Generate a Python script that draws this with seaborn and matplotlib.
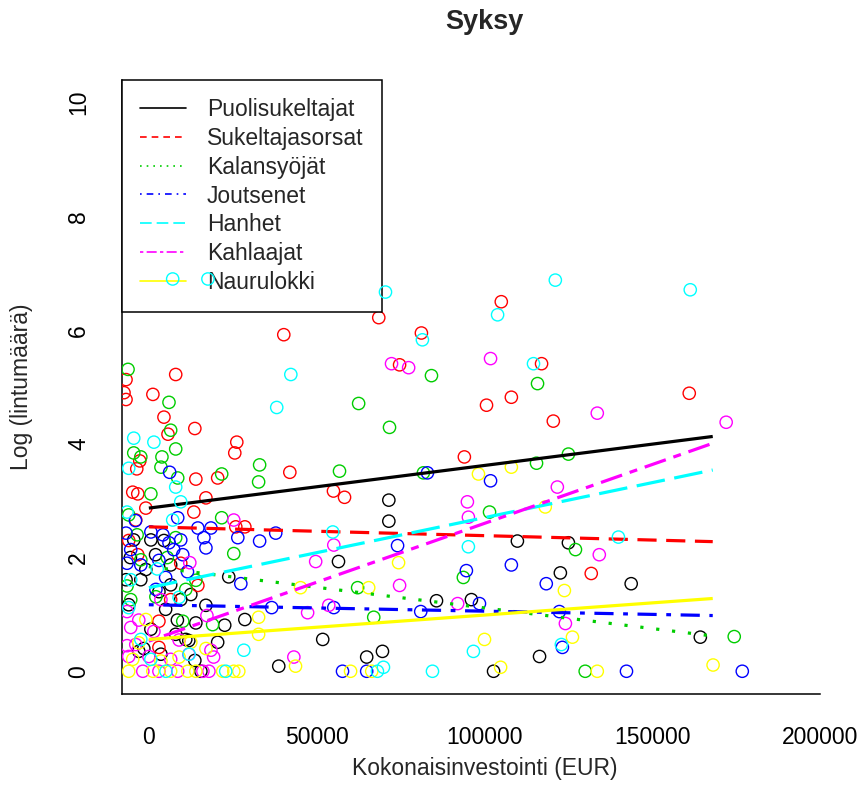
import numpy as np
import pandas as pd
import matplotlib
matplotlib.use("Agg")
import matplotlib.pyplot as plt
from matplotlib.lines import Line2D
import seaborn as sns

# ---- observations per bird group: total investment (EUR) vs log bird count ----
groups = ["Puolisukeltajat", "Sukeltajasorsat", "Kalansyöjät", "Joutsenet",
          "Hanhet", "Kahlaajat", "Naurulokki"]
colors = ["#000000", "#FF0000", "#00CD00", "#0000FF", "#00FFFF", "#FF00FF", "#FFFF00"]

x_puoli = [71500, 71500, 109800, 125000, 56500, 122600, 143700, 85700, 96100, 164300,
           64900, 69600, 116400, 102700, 51800, 38700, 23800, 17000, 28600, 22600,
           20500, 11900, 13700, -4500, 600, 2000, 6500, -2400, -6000, 5000,
           8000, 11000, 600, -3000, -6800, 9500, 3600, 15500, -900, 6500, 12500,
           -5500, 3000, 8500, -1500, 14000, 4500]
y_puoli = [3.01, 2.64, 2.29, 2.26, 1.93, 1.73, 1.54, 1.24, 1.26, 0.60,
           0.25, 0.35, 0.26, 0.00, 0.56, 0.09, 1.66, 1.16, 0.91, 0.81,
           0.51, 0.54, 0.19, 2.31, 2.31, 2.05, 1.52, 1.61, 1.17, 1.09,
           0.65, 0.56, 0.74, 0.35, 1.61, 1.26, 0.30, 0.00, 1.79, 1.87, 1.35,
           2.00, 1.40, 0.90, 0.40, 0.85, 2.30]

x_sukeltaja = [105000, 68500, 81200, 74700, 117000, 100600, 108000, 161000, 120500, 94000,
               55000, 58300, 131800, 40200, 8000, -6800, -7400, -6800, 1200, 4500,
               5700, 13700, -2700, -3600, 26200, 25600, 42000, 20500, 14000, -4800,
               -3300, -900, 17000, 13400, 25900, 28600, 14600, 3000, 3000, -3900,
               -3300, 6500, -6000, 9500]
y_sukeltaja = [6.50, 6.22, 5.95, 5.39, 5.41, 4.68, 4.82, 4.89, 4.40, 3.77,
               3.17, 3.06, 1.72, 5.92, 5.22, 5.13, 4.90, 4.78, 4.87, 4.47,
               4.17, 4.27, 3.70, 3.56, 4.03, 3.84, 3.50, 3.40, 3.38, 3.15,
               3.12, 2.87, 3.05, 2.80, 2.54, 2.54, 1.51, 0.88, 0.42, 2.66,
               2.05, 1.26, 2.30, 1.90]

x_kalansyojat = [84200, 115800, 62500, 71700, 56800, 81800, 115500, 125000, 101500, 127100,
                 93700, 62200, 67000, 130000, 174400, -6200, 6000, 6500, 8000, -4500,
                 -2400, 3900, 3600, 8600, 33000, 32700, 21700, 600, 21700, 8000,
                 25300, 19000, -6000, -2400, 11000, -5400, 2100, 10100,
                 -6500, 5500, 14000, -3500]
y_kalansyojat = [5.20, 5.06, 4.71, 4.29, 3.52, 3.49, 3.66, 3.82, 2.80, 2.14,
                 1.65, 1.47, 0.95, 0.00, 0.61, 5.31, 4.73, 4.24, 3.91, 3.84,
                 3.77, 3.77, 3.59, 3.40, 3.63, 3.33, 3.47, 3.12, 2.70, 2.35,
                 2.07, 0.82, 2.75, 1.96, 1.44, 1.26, 1.31, 0.88,
                 1.50, 2.00, 1.60, 2.40]

x_joutsenet = [83000, 101800, 74100, 94600, 108000, 118400, 98500, 55100, 81000, 122300,
               123200, 57700, 64900, 142300, 176800, 6200, 14600, 18500, 16400, 17000,
               26500, 33000, 37800, 8600, 27400, 36600, -6800, -5400, 600, 4200,
               6000, 7400, 9500, 10100, 5000, -2400, 2100,
               -4000, 11500, -6500, 3000]
y_joutsenet = [3.49, 3.35, 2.21, 1.77, 1.87, 1.54, 1.19, 1.12, 1.05, 1.05,
               0.42, 0.00, 0.00, 0.00, 0.00, 3.50, 2.52, 2.52, 2.35, 2.17,
               2.35, 2.29, 2.43, 2.70, 1.54, 1.12, 2.43, 2.14, 2.45, 2.40,
               2.26, 2.14, 2.31, 2.05, 1.65, 1.87, 1.44,
               2.65, 1.75, 1.90, 1.95]

x_hanhet = [70500, 121100, 161300, 103900, 81500, 114600, 95200, 139900, 54800, 122900,
            96700, 68100, 69900, 84500, 42300, 38100, -4500, 1500, 8000, 9500,
            7100, 28300, 7100, 17600, -6000, -6000, 5100, 22900, -2400, -5400, 600,
            2500, -6500, 9000, 12000]
y_hanhet = [6.67, 6.88, 6.71, 6.27, 5.83, 5.41, 2.19, 2.36, 2.45, 0.47,
            0.35, 0.00, 0.07, 0.00, 5.22, 4.64, 4.10, 4.03, 3.24, 2.98,
            2.66, 0.37, 6.90, 6.90, 3.57, 1.12, 0.00, 0.00, 0.56, 1.61, 0.21,
            1.80, 2.80, 1.30, 0.30]

x_kahlaajat = [72300, 77400, 101800, 133600, 172000, 121700, 94900, 95200, 55100, 134200,
               74700, 92000, 124100, 25300, 12200, 49700, 53600, 47300, 17300, 43200,
               18500, 19300, -5400, -3900, -1800, 3000, 8600, 16100, 17900, -6000,
               0, -6500, 3600, 6500, 11900,
               -3000, 9000, 1500, -6500]
y_kahlaajat = [5.41, 5.34, 5.50, 4.54, 4.38, 3.24, 2.98, 2.71, 2.22, 2.05,
               1.51, 1.19, 0.84, 2.66, 1.91, 1.93, 1.16, 1.03, 0.98, 0.25,
               0.37, 0.25, 0.77, 0.47, 0.00, 0.00, 0.00, 0.00, 0.00, 0.26,
               0.26, 1.05, 1.26, 0.21, 0.30,
               0.90, 0.55, 0.70, 0.45]

x_naurulokki = [98200, 108000, 118100, 74400, 65500, 123800, 126200, 100000, 168100, 104800,
                60100, 66400, 133600, 45200, 32700, 32700, 43700, -6000, 1200, 6500,
                11600, 14000, 22000, 25300, 26800, 12500, -4800, 3600, -900,
                -3000, 9000, 17000]
y_naurulokki = [3.47, 3.59, 2.89, 1.91, 1.47, 1.42, 0.60, 0.56, 0.11, 0.07,
                0.00, 0.00, 0.00, 1.47, 0.95, 0.65, 0.09, 0.00, 0.00, 0.00,
                0.00, 0.00, 0.00, 0.00, 0.00, 0.51, 0.21, 0.18, 0.91,
                0.50, 0.25, 0.40]

xs = [x_puoli, x_sukeltaja, x_kalansyojat, x_joutsenet, x_hanhet, x_kahlaajat, x_naurulokki]
ys = [y_puoli, y_sukeltaja, y_kalansyojat, y_joutsenet, y_hanhet, y_kahlaajat, y_naurulokki]

# ---- fitted linear trends: (start, end) over the investment range ----
trend_x = [0, 168000]
trend_start = [2.87, 2.54, 1.84, 1.17, 1.47, 0.53, 0.56]
trend_end = [4.13, 2.28, 0.62, 0.98, 3.54, 4.01, 1.28]
line_styles = ["-", (0, (6, 3)), (0, (1, 4)), (0, (1.5, 3, 6, 3)),
               (0, (9, 3)), (0, (2.5, 2.5, 7, 2.5)), "-"]

xticks = [0, 50000, 100000, 150000, 200000]
yticks = [0, 2, 4, 6, 8, 10]

sns.set_style("white")
plt.rcParams["font.family"] = ["Liberation Sans", "DejaVu Sans"]

fig = plt.figure(figsize=(8.62, 8.09), dpi=100)
ax = fig.add_axes([122 / 862, 115 / 809, 725 / 862, 614 / 809])

frames = []
for g, x, y in zip(groups, xs, ys):
    frames.append(pd.DataFrame({"group": g, "invest": x, "logcount": y}))
df = pd.concat(frames, ignore_index=True)

for i, (g, c) in enumerate(zip(groups, colors)):
    sub = df[df["group"] == g]
    n_before = len(ax.collections)
    sns.scatterplot(data=sub, x="invest", y="logcount", color=c, s=78,
                    linewidth=1.0, ax=ax, legend=False)
    coll = ax.collections[n_before]
    coll.set_facecolors("none")
    coll.set_edgecolors(c)
    coll.set_zorder(7 if g == "Hanhet" else 3)

for i, c in enumerate(colors):
    ax.plot(trend_x, [trend_start[i], trend_end[i]], color=c, lw=2.3,
            linestyle=line_styles[i], zorder=4, solid_capstyle="butt")

ax.set_xlim(-8000, 208000)
ax.set_ylim(-0.4, 10.4)
ax.set_xticks(xticks)
ax.set_xticklabels([str(v) for v in xticks])
ax.set_yticks(yticks)
ax.set_yticklabels([str(v) for v in yticks], rotation=90, va="center")

for side in ["top", "right"]:
    ax.spines[side].set_visible(False)
for side in ["left", "bottom"]:
    ax.spines[side].set_color("black")
    ax.spines[side].set_linewidth(1.1)
ax.spines["bottom"].set_bounds(-8000, 200000)

ax.tick_params(axis="both", direction="out", length=11, width=1.1,
               color="black", labelsize=16.5, labelcolor="black")
ax.tick_params(axis="x", pad=12)
ax.tick_params(axis="y", pad=12)
ax.grid(False)

ax.set_title("Syksy", fontsize=19.5, fontweight="bold", y=(694 - 22) / 614,
             va="center", pad=0)
ax.set_xlabel("Kokonaisinvestointi (EUR)", fontsize=16.5)
ax.xaxis.set_label_coords(0.5, (694 - 768) / 614)
ax.xaxis.label.set_va("center")
ax.set_ylabel("Log (lintumäärä)", fontsize=16.5)
ax.yaxis.set_label_coords((22 - 122) / 725, 0.5)
ax.yaxis.label.set_va("center")
ax.yaxis.label.set_ha("center")

handles = [Line2D([0], [0], color=c, lw=1.2, linestyle=ls)
           for c, ls in zip(colors, ["-", (0, (4, 3)), (0, (1, 3)), (0, (1, 3, 4, 3)),
                                     (0, (7, 3)), (0, (2, 2, 6, 2)), "-"])]
leg = ax.legend(handles, groups, loc="upper left", bbox_to_anchor=(0, 1),
                borderaxespad=0, fontsize=16.5, frameon=True, fancybox=False,
                framealpha=1, edgecolor="black", handlelength=2.0,
                handletextpad=0.9, borderpad=0.8, labelspacing=0.25)
leg.get_frame().set_linewidth(1.1)
leg.set_zorder(5)

fig.savefig("out.png", dpi=100, facecolor="white")
